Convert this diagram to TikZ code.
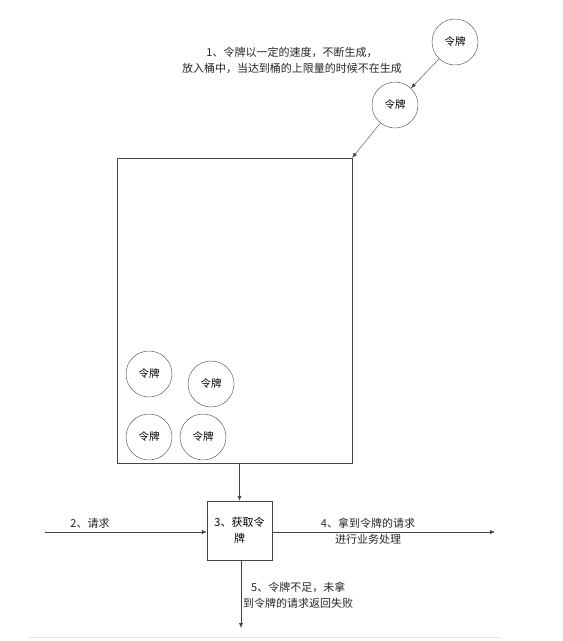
\documentclass[tikz,border=0pt]{standalone}
\usepackage{fontspec}
\setmainfont{Noto Sans CJK SC}
\usetikzlibrary{arrows.meta,positioning}
\definecolor{ln}{HTML}{444444}
\definecolor{rule}{HTML}{E4E4E4}
\tikzset{
  tok/.style={circle,draw=ln,thin,minimum size=46pt,inner sep=0pt,font=\fontsize{10.5}{12}\selectfont},
  bucket/.style={draw=ln,thin,minimum width=235pt,minimum height=305pt,inner sep=0pt},
  getbox/.style={draw=ln,thin,minimum width=65pt,minimum height=59pt,inner sep=0pt,align=center,font=\fontsize{11}{16}\selectfont},
  lbl/.style={align=center,inner sep=0pt,font=\fontsize{11}{16}\selectfont,text=black!85},
  ar/.style={-{Latex[length=5pt,width=4pt]},thin,draw=ln},
}
\begin{document}
\begin{tikzpicture}[x=1pt,y=-1pt]
  \useasboundingbox (0,0) rectangle (563,641);
  \node[tok] (t1) at (455,42) {令牌};
  \node[tok] (t2) at (395,105) {令牌};
  \node[lbl] (gen) at (292,60) {1、令牌以一定的速度，不断生成，\\放入桶中，当达到桶的上限量的时候不在生成};
  \node[bucket] (bk) at (234.5,310.5) {};
  \node[tok] (b1) at (149,374) {令牌};
  \node[tok] (b2) at (211,384) {令牌};
  \node[tok] (b3) at (149,437) {令牌};
  \node[tok] (b4) at (203,437) {令牌};
  \node[getbox] (take) at (239.5,530.5) {3、获取令\\牌};
  \coordinate (req) at (45,532);
  \coordinate (ok) at (495,532);
  \coordinate (fail) at (241,628);
  \draw[ar] (t1) -- (t2);
  \draw[ar] (t2) -- (bk.north east);
  \draw[ar] (bk.south -| take.north) -- (take.north);
  \draw[ar] (req) -- (req -| take.west);
  \draw[ar] (ok -| take.east) -- (ok);
  \draw[ar] (fail |- take.south) -- (fail);
  \node[lbl,above=3pt of req,xshift=45pt] (reqlbl) {2、请求};
  \node[lbl] (oklbl) at (368,531) {4、拿到令牌的请求\\进行业务处理};
  \node[lbl,anchor=west] (faillbl) at (243,595) {5、令牌不足，未拿\\到令牌的请求返回失败};
  \draw[rule,thick] (30,637) -- (500,637);
\end{tikzpicture}
\end{document}
